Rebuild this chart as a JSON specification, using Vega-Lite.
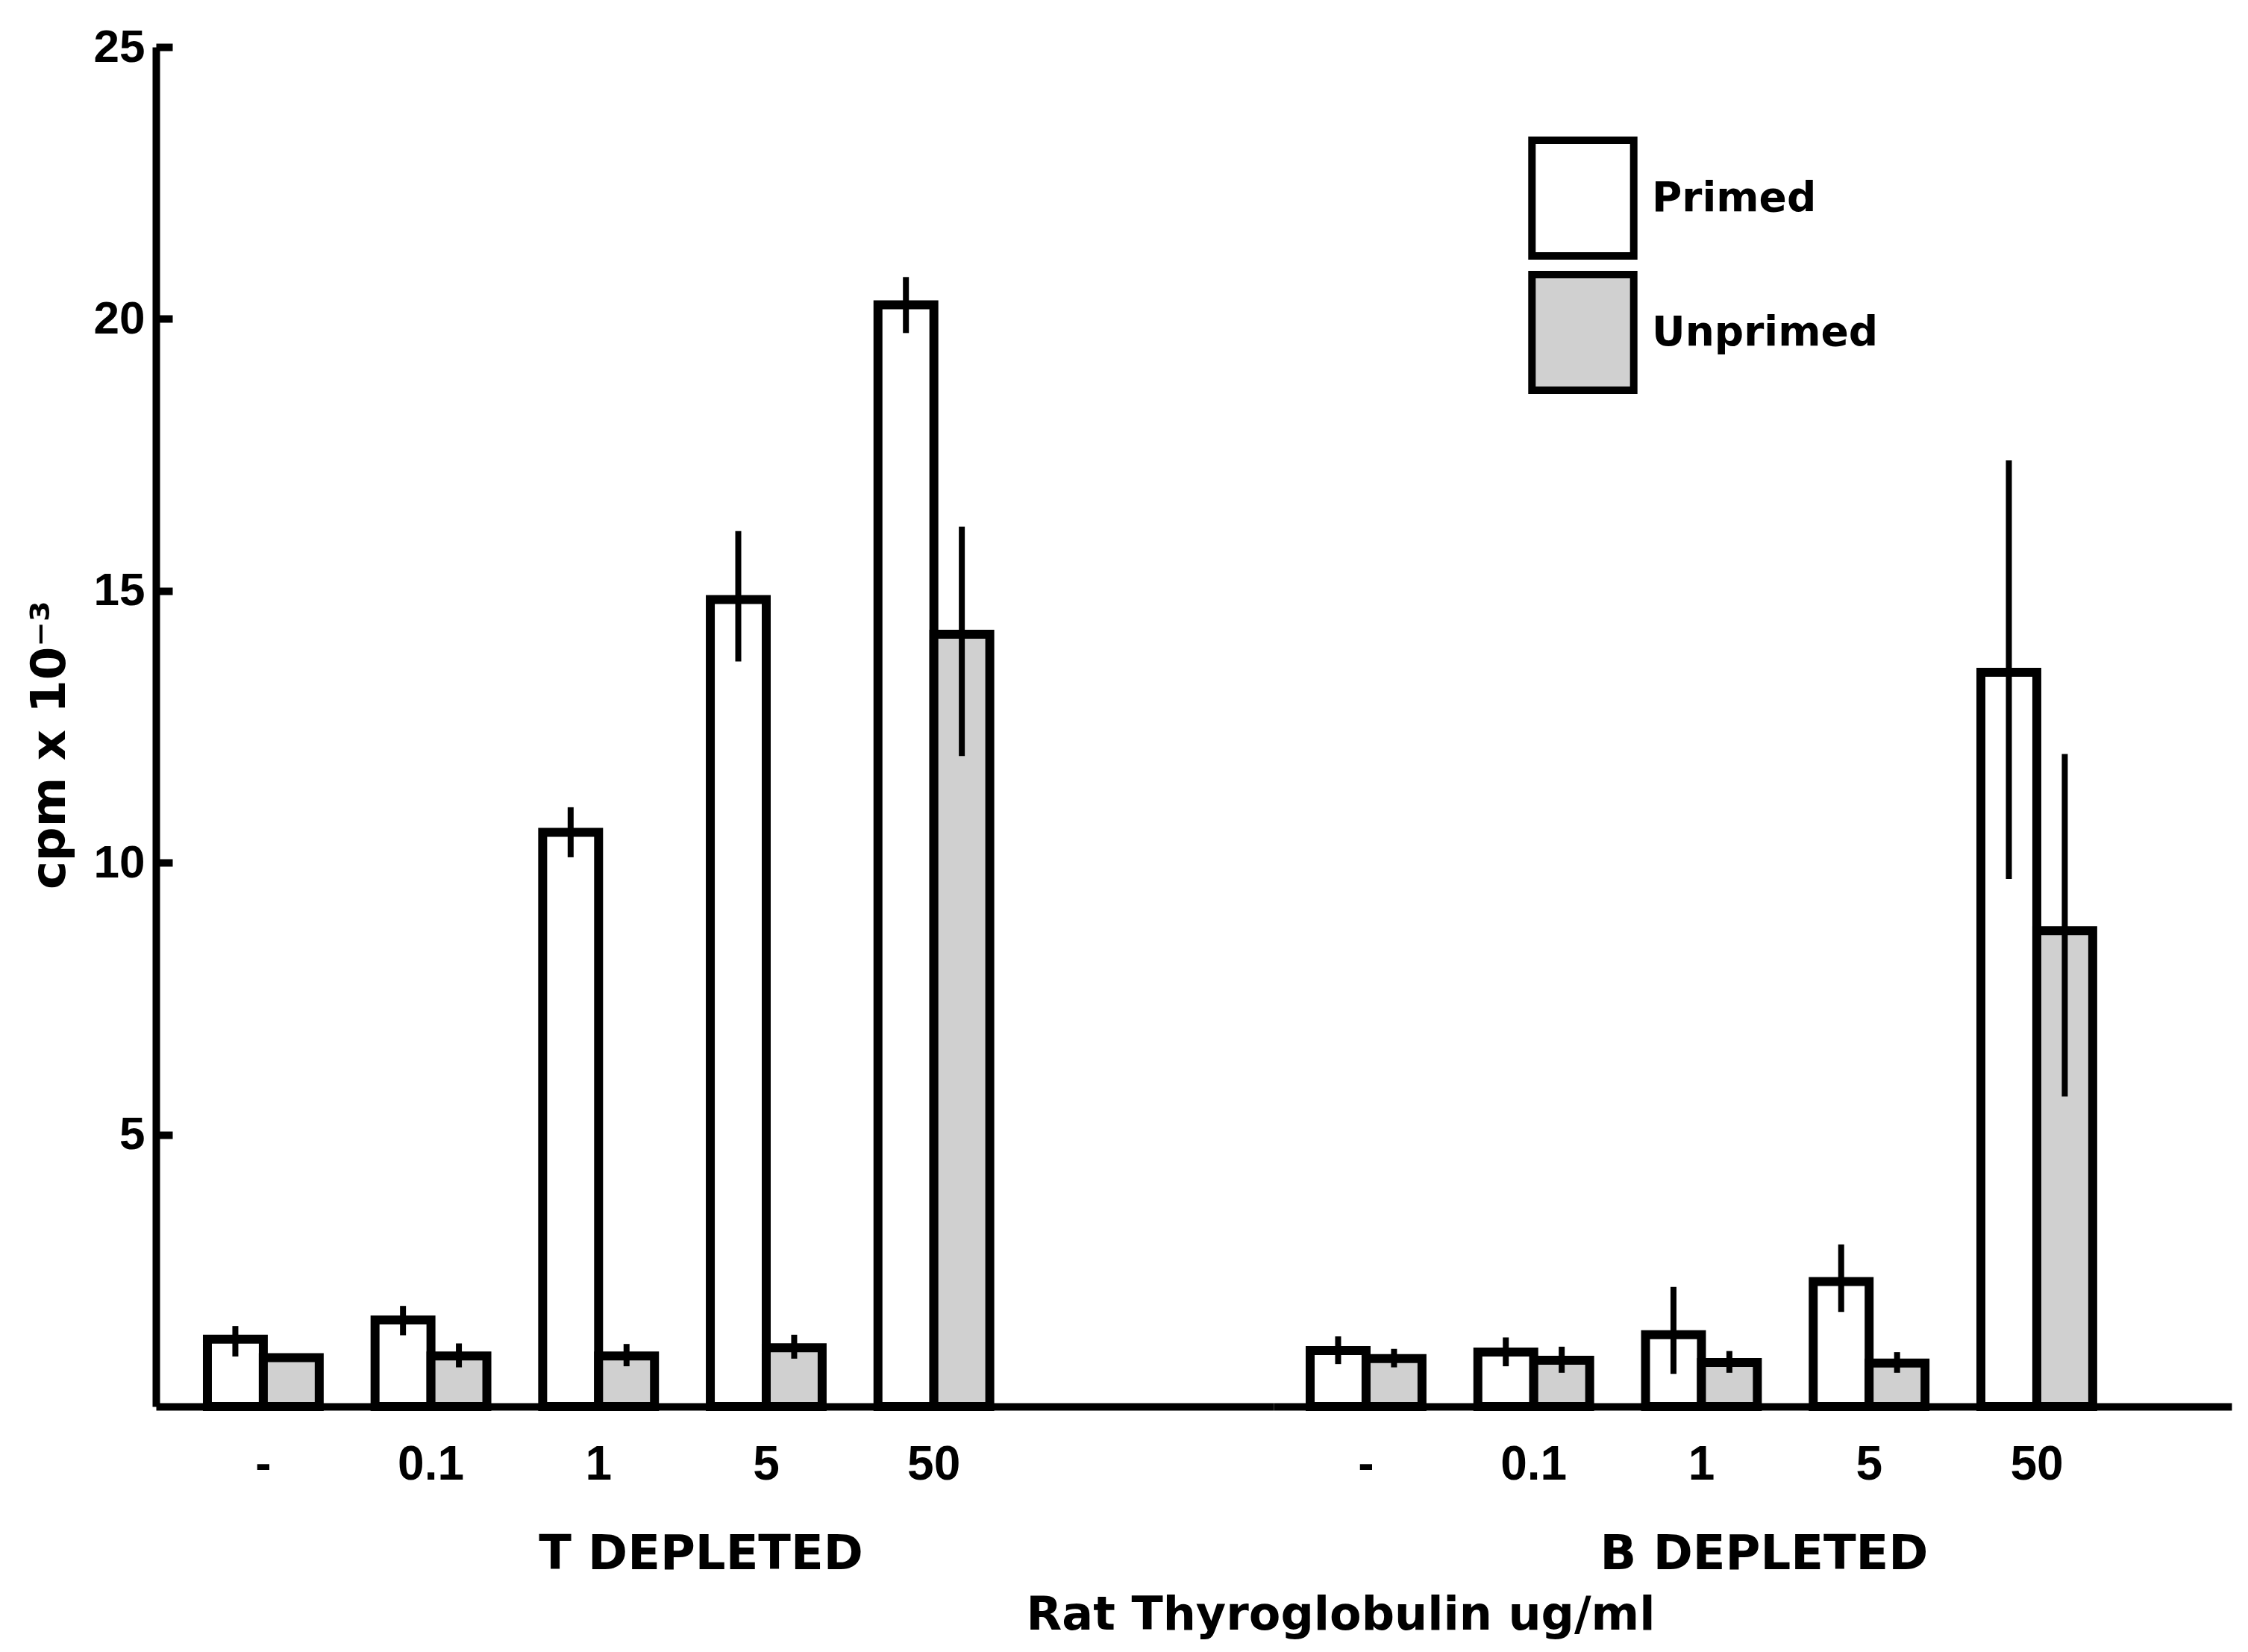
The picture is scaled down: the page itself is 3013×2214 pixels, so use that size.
{
  "$schema": "https://vega.github.io/schema/vega-lite/v6.json",
  "background": "white",
  "padding": {"left": 35, "top": 32, "right": 21, "bottom": 12},
  "config": {
    "view": {"stroke": null},
    "font": "DejaVu Sans",
    "axis": {"grid": false, "domainColor": "black", "domainWidth": 10, "labelColor": "black", "titleColor": "black", "tickColor": "black"}
  },
  "title": {"text": "Rat Thyroglobulin ug/ml", "orient": "bottom", "anchor": "middle", "dx": 284, "font": "DejaVu Sans", "fontSize": 62, "fontWeight": "bold", "color": "black", "offset": 20},
  "data": {"values": [
    {"group": "T DEPLETED", "conc": "-", "treatment": "Primed", "value": 1.24, "lo": 0.92, "hi": 1.48},
    {"group": "T DEPLETED", "conc": "-", "treatment": "Unprimed", "value": 0.90, "lo": 0.84, "hi": 0.96},
    {"group": "T DEPLETED", "conc": "0.1", "treatment": "Primed", "value": 1.59, "lo": 1.31, "hi": 1.85},
    {"group": "T DEPLETED", "conc": "0.1", "treatment": "Unprimed", "value": 0.93, "lo": 0.72, "hi": 1.16},
    {"group": "T DEPLETED", "conc": "1", "treatment": "Primed", "value": 10.56, "lo": 10.10, "hi": 11.02},
    {"group": "T DEPLETED", "conc": "1", "treatment": "Unprimed", "value": 0.93, "lo": 0.74, "hi": 1.15},
    {"group": "T DEPLETED", "conc": "5", "treatment": "Primed", "value": 14.84, "lo": 13.70, "hi": 16.10},
    {"group": "T DEPLETED", "conc": "5", "treatment": "Unprimed", "value": 1.08, "lo": 0.88, "hi": 1.32},
    {"group": "T DEPLETED", "conc": "50", "treatment": "Primed", "value": 20.26, "lo": 19.74, "hi": 20.77},
    {"group": "T DEPLETED", "conc": "50", "treatment": "Unprimed", "value": 14.20, "lo": 11.96, "hi": 16.18},
    {"group": "B DEPLETED", "conc": "-", "treatment": "Primed", "value": 1.03, "lo": 0.78, "hi": 1.29},
    {"group": "B DEPLETED", "conc": "-", "treatment": "Unprimed", "value": 0.88, "lo": 0.72, "hi": 1.06},
    {"group": "B DEPLETED", "conc": "0.1", "treatment": "Primed", "value": 1.00, "lo": 0.74, "hi": 1.27},
    {"group": "B DEPLETED", "conc": "0.1", "treatment": "Unprimed", "value": 0.85, "lo": 0.62, "hi": 1.10},
    {"group": "B DEPLETED", "conc": "1", "treatment": "Primed", "value": 1.32, "lo": 0.60, "hi": 2.20},
    {"group": "B DEPLETED", "conc": "1", "treatment": "Unprimed", "value": 0.81, "lo": 0.62, "hi": 1.02},
    {"group": "B DEPLETED", "conc": "5", "treatment": "Primed", "value": 2.30, "lo": 1.74, "hi": 2.98},
    {"group": "B DEPLETED", "conc": "5", "treatment": "Unprimed", "value": 0.80, "lo": 0.62, "hi": 1.00},
    {"group": "B DEPLETED", "conc": "50", "treatment": "Primed", "value": 13.50, "lo": 9.70, "hi": 17.40},
    {"group": "B DEPLETED", "conc": "50", "treatment": "Unprimed", "value": 8.75, "lo": 5.70, "hi": 12.00}
  ]},
  "spacing": 0,
  "bounds": "flush",
  "resolve": {"scale": {"x": "independent", "y": "independent", "fill": "independent"}},
  "hconcat": [
    {
      "width": 1498,
      "height": 1822,
      "transform": [{"filter": "datum.group === 'T DEPLETED'"}],
      "layer": [
        {
          "mark": {"type": "bar", "stroke": "black", "strokeWidth": 12, "fillOpacity": 1},
          "encoding": {
            "x": {"field": "conc", "type": "nominal", "sort": ["-", "0.1", "1", "5", "50"],
                  "scale": {"paddingInner": 0.333, "paddingOuter": 1, "align": 0.1535},
                  "axis": {"title": "T DEPLETED", "titleX": 730, "labelAngle": 0, "ticks": false, "tickSize": 0, "labelPadding": 46,
                           "labelFont": "Liberation Sans", "labelFontSize": 64, "labelFontWeight": "bold",
                           "titleFont": "DejaVu Sans", "titleFontSize": 64, "titleFontWeight": "bold", "titlePadding": 56}},
            "xOffset": {"field": "treatment", "type": "nominal", "sort": ["Primed", "Unprimed"], "scale": {"paddingInner": 0, "paddingOuter": 0}},
            "y": {"field": "value", "type": "quantitative", "scale": {"domain": [0, 25], "nice": false},
                  "axis": {"title": "cpm x 10⁻³", "titleY": 935, "values": [5, 10, 15, 20, 25], "format": "d", "tickSize": -22, "tickWidth": 10, "labelPadding": 37,
                           "labelFont": "Liberation Sans", "labelFontSize": 62, "labelFontWeight": "bold",
                           "titleFont": "DejaVu Sans", "titleFontSize": 64, "titleFontWeight": "bold", "titlePadding": 26}},
            "fill": {"field": "treatment", "type": "nominal", "scale": {"domain": ["Primed", "Unprimed"], "range": ["white", "#d0d0d0"]}, "legend": null}
          }
        },
        {
          "mark": {"type": "rule", "color": "black", "strokeWidth": 8},
          "encoding": {
            "x": {"field": "conc", "type": "nominal", "sort": ["-", "0.1", "1", "5", "50"]},
            "xOffset": {"field": "treatment", "type": "nominal", "sort": ["Primed", "Unprimed"]},
            "y": {"field": "lo", "type": "quantitative"},
            "y2": {"field": "hi"}
          }
        }
      ]
    },
    {
      "width": 1284,
      "height": 1822,
      "transform": [{"filter": "datum.group === 'B DEPLETED'"}],
      "layer": [
        {
          "mark": {"type": "bar", "stroke": "black", "strokeWidth": 12, "fillOpacity": 1},
          "encoding": {
            "x": {"field": "conc", "type": "nominal", "sort": ["-", "0.1", "1", "5", "50"],
                  "scale": {"paddingInner": 0.333, "paddingOuter": 0.523, "align": 0.2085},
                  "axis": {"title": "B DEPLETED", "titleX": 657, "labelAngle": 0, "ticks": false, "tickSize": 0, "labelPadding": 46,
                           "labelFont": "Liberation Sans", "labelFontSize": 64, "labelFontWeight": "bold",
                           "titleFont": "DejaVu Sans", "titleFontSize": 64, "titleFontWeight": "bold", "titlePadding": 56}},
            "xOffset": {"field": "treatment", "type": "nominal", "sort": ["Primed", "Unprimed"], "scale": {"paddingInner": 0, "paddingOuter": 0}},
            "y": {"field": "value", "type": "quantitative", "scale": {"domain": [0, 25], "nice": false}, "axis": null},
            "fill": {"field": "treatment", "type": "nominal", "scale": {"domain": ["Primed", "Unprimed"], "range": ["white", "#d0d0d0"]},
                     "legend": {"title": null, "orient": "none", "legendX": 332, "legendY": 120, "padding": 0,
                                "symbolType": "M-0.88,-1H0.88V1H-0.88Z", "symbolSize": 24025, "symbolStrokeColor": "black", "symbolStrokeWidth": 10, "symbolOpacity": 1,
                                "rowPadding": -39, "labelOffset": 10, "labelLimit": 1000, "labelFont": "DejaVu Sans", "labelFontSize": 55, "labelFontWeight": "bold", "labelColor": "black"}}
          }
        },
        {
          "mark": {"type": "rule", "color": "black", "strokeWidth": 8},
          "encoding": {
            "x": {"field": "conc", "type": "nominal", "sort": ["-", "0.1", "1", "5", "50"]},
            "xOffset": {"field": "treatment", "type": "nominal", "sort": ["Primed", "Unprimed"]},
            "y": {"field": "lo", "type": "quantitative"},
            "y2": {"field": "hi"}
          }
        }
      ]
    }
  ]
}
